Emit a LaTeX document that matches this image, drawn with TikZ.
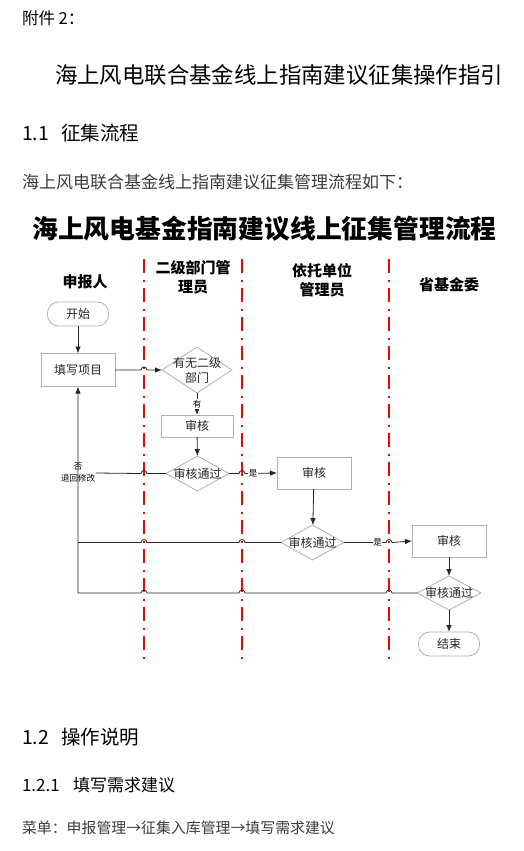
\documentclass[tikz,border=0pt]{standalone}
\usepackage{fontspec}
\setmainfont{Noto Sans CJK SC}
\usetikzlibrary{arrows.meta,shapes.geometric,calc}
\definecolor{boxgray}{HTML}{B0B0B0}
\definecolor{txtgray}{HTML}{3C3C3C}
\definecolor{nodetxt}{HTML}{262626}
\definecolor{lanered}{HTML}{FF0000}
\begin{document}
\begin{tikzpicture}[x=1pt,y=-1pt,
  every node/.style={inner sep=0pt,outer sep=0pt},
  proc/.style={draw=boxgray,line width=0.8pt,minimum width=#1,text=nodetxt,font=\fontsize{12}{15}\selectfont},
  term/.style={draw=boxgray,line width=0.8pt,rounded corners=11pt,minimum width=61pt,minimum height=24pt,text=nodetxt,font=\fontsize{12}{15}\selectfont},
  dec/.style={diamond,draw=boxgray,line width=0.8pt,inner sep=0pt},
  dectext/.style={align=center,text=nodetxt,font=\fontsize{12}{15}\selectfont},
  small/.style={fill=white,inner sep=0.6pt,text=black,font=\fontsize{8.5}{12}\selectfont,align=center},
  conn/.style={line width=0.8pt,draw=black!85},
  arr/.style={conn,-{Latex[length=7pt,width=5.5pt]}},
  lane/.style={draw=lanered,line width=1.7pt,dash pattern=on 14pt off 7pt on 1.5pt off 6.5pt},
  head/.style={font=\fontsize{15}{19}\selectfont\bfseries,align=center}
]
\useasboundingbox (0,0) rectangle (523,851);

% page texts
\node[anchor=west,font=\fontsize{16.5}{20}\selectfont] (att) at (22,18) {附件 2：};
\node[anchor=west,font=\fontsize{22.4}{26}\selectfont] (doctitle) at (55,75) {海上风电联合基金线上指南建议征集操作指引};
\node[anchor=west,font=\fontsize{19.5}{23}\selectfont] (sec11) at (22,133) {\makebox[2em][l]{1.1}征集流程};
\node[anchor=west,text=txtgray,font=\fontsize{17}{20}\selectfont] (intro) at (22,182) {海上风电联合基金线上指南建议征集管理流程如下：};
\node[font=\fontsize{25.8}{30}\selectfont\bfseries] (ftitle) at (264.5,229) {海上风电基金指南建议线上征集管理流程};
\node[anchor=west,font=\fontsize{19.5}{23}\selectfont] (sec12) at (22,737) {\makebox[2em][l]{1.2}操作说明};
\node[anchor=west,font=\fontsize{17}{20}\selectfont] (sec121) at (22,785) {\makebox[3em][l]{1.2.1}填写需求建议};
\node[anchor=west,text=txtgray,font=\fontsize{14.9}{18}\selectfont] (menu) at (22,828) {菜单：申报管理→征集入库管理→填写需求建议};

% lane headers
\node[head] (h1) at (85,282) {申报人};
\node[head] (h2) at (193,277.5) {二级部门管\\理员};
\node[head] (h3) at (322,280) {依托单位\\管理员};
\node[head] (h4) at (449,285) {省基金委};

% lane separators
\coordinate (L1) at (144,259);
\coordinate (L2) at (242,259);
\coordinate (L3) at (389,259);
\coordinate (Lb) at (0,662);
\draw[lane] (L1) -- (L1 |- Lb);
\draw[lane] (L2) -- (L2 |- Lb);
\draw[lane] (L3) -- (L3 |- Lb);

% flow nodes
\node[term] (start) at (78,314) {开始};
\node[proc=74pt,minimum height=33pt] (fill) at (78,370) {填写项目};
\node[dec,minimum width=70pt,minimum height=46pt,label={[dectext]center:有无二级\\部门}] (q1) at (197,370) {};
\node[proc=72pt,minimum height=22pt] (rev1) at (197,426) {审核};
\node[dec,minimum width=63pt,minimum height=35pt,label={[dectext]center:审核通过}] (q2) at (197.5,473.5) {};
\node[proc=74pt,minimum height=32pt] (rev2) at (314,473) {审核};
\node[dec,minimum width=63pt,minimum height=35pt,label={[dectext]center:审核通过}] (q3) at (312.5,542.5) {};
\node[proc=74pt,minimum height=32pt] (rev3) at (449,541) {审核};
\node[dec,minimum width=64pt,minimum height=34pt,label={[dectext]center:审核通过}] (q4) at (449,593) {};
\node[term] (end) at (449,644) {结束};
\node[small,fill=none] (back) at (78,473) {否\\退回修改};

% connectors
\draw[arr] (start) -- (fill);
\draw[arr] (fill.east) -- ($(L1 |- fill.east)+(-3,0)$) arc[start angle=180,end angle=0,radius=3pt] -- (q1.west);
\draw[arr] (q1.south) -- node[small]{有} (rev1.north);
\draw[arr] (rev1) -- (q2);
\draw[arr] (q2.east) -- ($(L2 |- q2.east)+(-3,0)$) arc[start angle=180,end angle=0,radius=3pt] -- node[small,pos=0.25]{是} (rev2.west);
\draw[conn] (q2.west) -- ($(L1 |- q2.west)+(3,0)$) arc[start angle=0,end angle=180,radius=3pt] -- (back.east);
\draw[arr] (rev2) -- (q3);
\draw[arr] (q3.east) -- node[small,pos=0.8]{是} ($(L3 |- q3.east)+(-3,0)$) arc[start angle=180,end angle=0,radius=3pt] -- (rev3.west);
\draw[conn] (q3.west) -- ($(L2 |- q3.west)+(3,0)$) arc[start angle=0,end angle=180,radius=3pt]
  -- ($(L1 |- q3.west)+(3,0)$) arc[start angle=0,end angle=180,radius=3pt] -- (fill.south |- q3.west);
\draw[arr] (rev3) -- (q4);
\draw[arr] (q4.west) -- ($(L3 |- q4.west)+(3,0)$) arc[start angle=0,end angle=180,radius=3pt]
  -- ($(L2 |- q4.west)+(3,0)$) arc[start angle=0,end angle=180,radius=3pt]
  -- ($(L1 |- q4.west)+(3,0)$) arc[start angle=0,end angle=180,radius=3pt]
  -- (fill.south |- q4.west) -- (fill.south);
\draw[arr] (q4) -- (end);
\end{tikzpicture}
\end{document}
